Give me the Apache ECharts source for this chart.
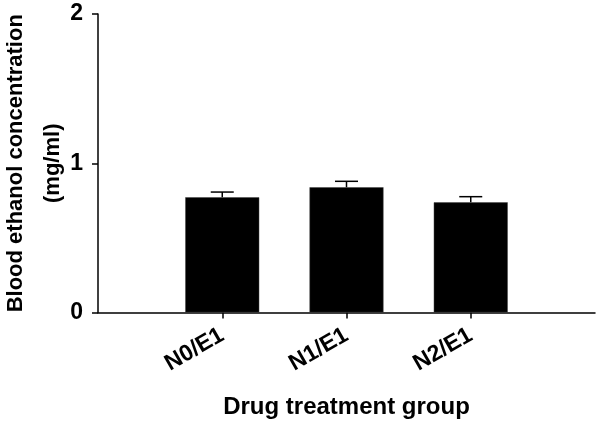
<!DOCTYPE html>
<html>
<head>
<meta charset="utf-8">
<script src="https://cdn.jsdelivr.net/npm/echarts@6/dist/echarts.min.js"></script>
<style>html,body{margin:0;padding:0;background:#fff}#c{width:602px;height:421px}</style>
</head>
<body>
<div id="c"></div>
<script>
const categories = ['N0/E1', 'N1/E1', 'N2/E1'];
const means = [0.772, 0.839, 0.738];
const sems = [0.035, 0.040, 0.038];
const yTicks = [0, 1, 2];

const FONT = 'Liberation Sans, Arial, sans-serif';
const xData = [''].concat(categories, ['']);
const barData = [null].concat(means, [null]);
const errData = categories.map((c, i) => [i + 1, means[i], sems[i]]);

const chart = echarts.init(document.getElementById('c'), null, {renderer: 'canvas'});
chart.setOption({
  animation: false,
  backgroundColor: '#fff',
  grid: {left: 98, right: 7, top: 14, bottom: 108.5, containLabel: false, outerBoundsMode: 'none'},
  xAxis: {
    type: 'category',
    data: xData,
    boundaryGap: false,
    name: 'Drug treatment group',
    nameLocation: 'middle',
    nameGap: 83,
    nameMoveOverlap: false,
    nameTextStyle: {fontFamily: FONT, fontWeight: 'bold', fontSize: 24, color: '#000'},
    axisLine: {lineStyle: {color: '#000', width: 1.5}},
    axisTick: {show: true, length: 6, interval: (i) => i > 0 && i < xData.length - 1, lineStyle: {color: '#000', width: 1.5}},
    axisLabel: {interval: 0, rotate: 30, margin: 21, fontFamily: FONT, fontWeight: 'bold', fontSize: 23, color: '#000'},
    splitLine: {show: false}
  },
  yAxis: {
    type: 'value',
    min: yTicks[0],
    max: yTicks[yTicks.length - 1],
    interval: 1,
    name: 'Blood ethanol concentration\n(mg/ml)',
    nameLocation: 'middle',
    nameGap: 27,
    nameMoveOverlap: false,
    nameTextStyle: {fontFamily: FONT, fontWeight: 'bold', fontSize: 22, color: '#000', lineHeight: 37},
    axisLine: {show: true, lineStyle: {color: '#000', width: 1.5}},
    axisTick: {show: true, length: 6, lineStyle: {color: '#000', width: 1.5}},
    axisLabel: {margin: 15, fontFamily: FONT, fontWeight: 'bold', fontSize: 23, color: '#000'},
    splitLine: {show: false}
  },
  series: [
    {
      type: 'bar',
      data: barData,
      barWidth: 74,
      itemStyle: {color: '#000', borderColor: '#444', borderWidth: 0.5},
      z: 2
    },
    {
      type: 'custom',
      data: errData,
      z: 3,
      renderItem: function (params, api) {
        const x = api.value(0);
        const m = api.value(1);
        const e = api.value(2);
        const top = api.coord([x, m + e]);
        const bot = api.coord([x, m]);
        const hw = 11.5;
        return {
          type: 'group',
          children: [
            {type: 'line', shape: {x1: top[0], y1: top[1], x2: bot[0], y2: bot[1]}, style: {stroke: '#000', lineWidth: 1.5}},
            {type: 'line', shape: {x1: top[0] - hw, y1: top[1], x2: top[0] + hw, y2: top[1]}, style: {stroke: '#000', lineWidth: 1.5}}
          ]
        };
      }
    }
  ]
});
</script>
</body>
</html>
